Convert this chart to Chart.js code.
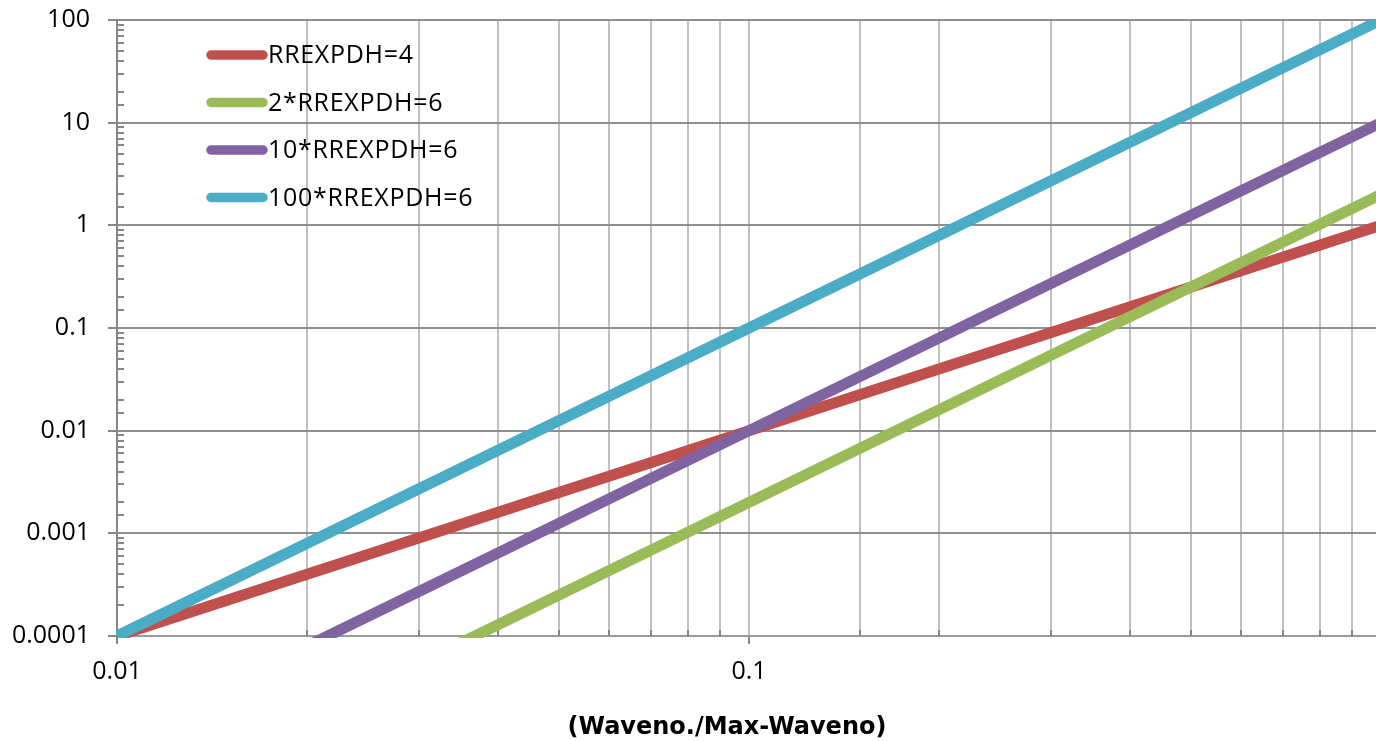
<!DOCTYPE html>
<html>
<head>
<meta charset="utf-8">
<script src="https://cdn.jsdelivr.net/npm/chart.js@4/dist/chart.umd.min.js"></script>
<style>
  html, body { margin: 0; padding: 0; background: #ffffff; overflow: hidden; }
  #wrap { position: absolute; left: 0; top: 0; width: 1420px; height: 741px; }
</style>
</head>
<body>
<div id="wrap"><canvas id="chart" width="1420" height="741"></canvas></div>
<script>
// Wavenumber ratio (x) and the four spectra (y), log-log
const ratioValues = [0.01, 0.1, 1];
const seriesNames = ['RREXPDH=4', '2*RREXPDH=6', '10*RREXPDH=6', '100*RREXPDH=6'];
const rrexpdh4 = [0.0001, 0.01, 1];
const twoRrexpdh6 = [0.000002, 0.002, 2];
const tenRrexpdh6 = [0.00001, 0.01, 10];
const hundredRrexpdh6 = [0.0001, 0.1, 100];
const xTickLabels = ['0.01', '0.1', '1'];
const yTickLabels = ['0.0001', '0.001', '0.01', '0.1', '1', '10', '100'];
const xAxisTitle = '(Waveno./Max-Waveno)';

const seriesColors = ['#C0504D', '#9BBB59', '#8064A2', '#4BACC6'];
const seriesValues = [rrexpdh4, twoRrexpdh6, tenRrexpdh6, hundredRrexpdh6];

const labelFont = '"Open Sans", "Noto Sans", sans-serif';
const isDecade = v => Math.abs(Math.log10(v) - Math.round(Math.log10(v))) < 1e-9;
const labelFor = (v, labels) => {
  const hit = labels.find(l => Math.abs(Math.log10(Number(l)) - Math.log10(v)) < 1e-9);
  return hit === undefined ? '' : hit;
};

// short inward tick marks at the 2..9 sub-decade positions
const minorTickMarks = {
  id: 'minorTickMarks',
  beforeDatasetsDraw(chart) {
    const { ctx, chartArea: a, scales: { x, y } } = chart;
    ctx.save();
    ctx.strokeStyle = '#868686';
    ctx.lineWidth = 2;
    ctx.beginPath();
    y.ticks.forEach(t => {
      if (isDecade(t.value)) return;
      const py = Math.round(y.getPixelForValue(t.value));
      ctx.moveTo(a.left, py);
      ctx.lineTo(a.left + 7, py);
    });
    x.ticks.forEach(t => {
      if (isDecade(t.value)) return;
      const px = Math.round(x.getPixelForValue(t.value));
      ctx.moveTo(px, a.bottom);
      ctx.lineTo(px, a.bottom - 6);
    });
    ctx.stroke();
    ctx.restore();
  }
};

// legend drawn inside the plot area, top-left
const insetLegend = {
  id: 'insetLegend',
  afterDatasetsDraw(chart, args, opts) {
    const ctx = chart.ctx;
    ctx.save();
    ctx.font = opts.font;
    if ('letterSpacing' in ctx) ctx.letterSpacing = opts.letterSpacing;
    ctx.textBaseline = 'middle';
    ctx.textAlign = 'left';
    chart.data.datasets.forEach((ds, i) => {
      const yy = opts.top + i * opts.rowGap;
      ctx.strokeStyle = ds.borderColor;
      ctx.lineWidth = opts.lineWidth;
      ctx.lineCap = 'round';
      ctx.beginPath();
      ctx.moveTo(opts.left, yy);
      ctx.lineTo(opts.left + opts.lineLength, yy);
      ctx.stroke();
      ctx.fillStyle = '#000000';
      ctx.fillText(ds.label, opts.textLeft, yy + 1);
    });
    ctx.restore();
  }
};

// bold axis caption under the x labels
const axisCaption = {
  id: 'axisCaption',
  afterDraw(chart, args, opts) {
    const ctx = chart.ctx;
    ctx.save();
    ctx.font = opts.font;
    ctx.fillStyle = '#000000';
    ctx.textAlign = 'center';
    ctx.textBaseline = 'middle';
    ctx.fillText(opts.text, opts.x, opts.y);
    ctx.restore();
  }
};

const datasets = seriesNames.map((name, i) => ({
  label: name,
  data: ratioValues.map((r, j) => ({ x: r, y: seriesValues[i][j] })),
  borderColor: seriesColors[i],
  backgroundColor: seriesColors[i],
  borderWidth: 11,
  pointRadius: 0,
  fill: false,
  tension: 0,
  clip: { left: 1, top: 0, right: 0, bottom: 2 },
  order: seriesNames.length - i
}));

new Chart(document.getElementById('chart'), {
  type: 'line',
  data: { datasets },
  options: {
    responsive: false,
    animation: false,
    devicePixelRatio: 1,
    events: [],
    layout: { padding: { top: 20, right: 39, left: 0, bottom: 0 } },
    plugins: {
      legend: { display: false },
      tooltip: { enabled: false },
      insetLegend: {
        font: '25px ' + labelFont,
        letterSpacing: '0.7px',
        left: 211, lineLength: 52, lineWidth: 9.5,
        textLeft: 268, top: 55, rowGap: 47.5
      },
      axisCaption: {
        text: xAxisTitle,
        font: 'bold 24px "DejaVu Sans", sans-serif',
        x: 727, y: 728
      }
    },
    scales: {
      x: {
        type: 'logarithmic',
        position: 'bottom',
        min: 0.01,
        max: 1,
        afterFit(s) { s.height = 105; s.paddingLeft = 0; s.paddingRight = 0; },
        border: { display: true, color: '#9a9a9a', width: 2 },
        grid: {
          color: c => (c.tick && Math.abs(c.tick.value - 0.01) < 1e-12) ? '#868686' : '#c0c0c0',
          lineWidth: 2,
          drawTicks: true,
          tickLength: 8,
          tickWidth: 2,
          tickColor: c => (c.tick && isDecade(c.tick.value)) ? '#868686' : 'rgba(0,0,0,0)'
        },
        ticks: {
          autoSkip: false,
          maxRotation: 0,
          minRotation: 0,
          padding: 13,
          color: '#000000',
          font: { family: labelFont, size: 25 },
          callback: v => labelFor(v, xTickLabels)
        }
      },
      y: {
        type: 'logarithmic',
        position: 'left',
        min: 0.0001,
        max: 100,
        afterFit(s) { s.width = 117; s.paddingTop = 0; s.paddingBottom = 0; },
        border: { display: true, color: '#868686', width: 2 },
        grid: {
          color: c => {
            if (!c.tick || !isDecade(c.tick.value)) return 'rgba(0,0,0,0)';
            return Math.abs(c.tick.value - 0.0001) < 1e-12 ? '#9a9a9a' : '#8f8f8f';
          },
          lineWidth: 2,
          drawTicks: true,
          tickLength: 9,
          tickWidth: 2,
          tickColor: c => (c.tick && isDecade(c.tick.value)) ? '#868686' : 'rgba(0,0,0,0)'
        },
        ticks: {
          autoSkip: false,
          padding: 18,
          color: '#000000',
          font: { family: labelFont, size: 25 },
          callback: v => labelFor(v, yTickLabels)
        }
      }
    }
  },
  plugins: [minorTickMarks, insetLegend, axisCaption]
});
</script>
</body>
</html>
